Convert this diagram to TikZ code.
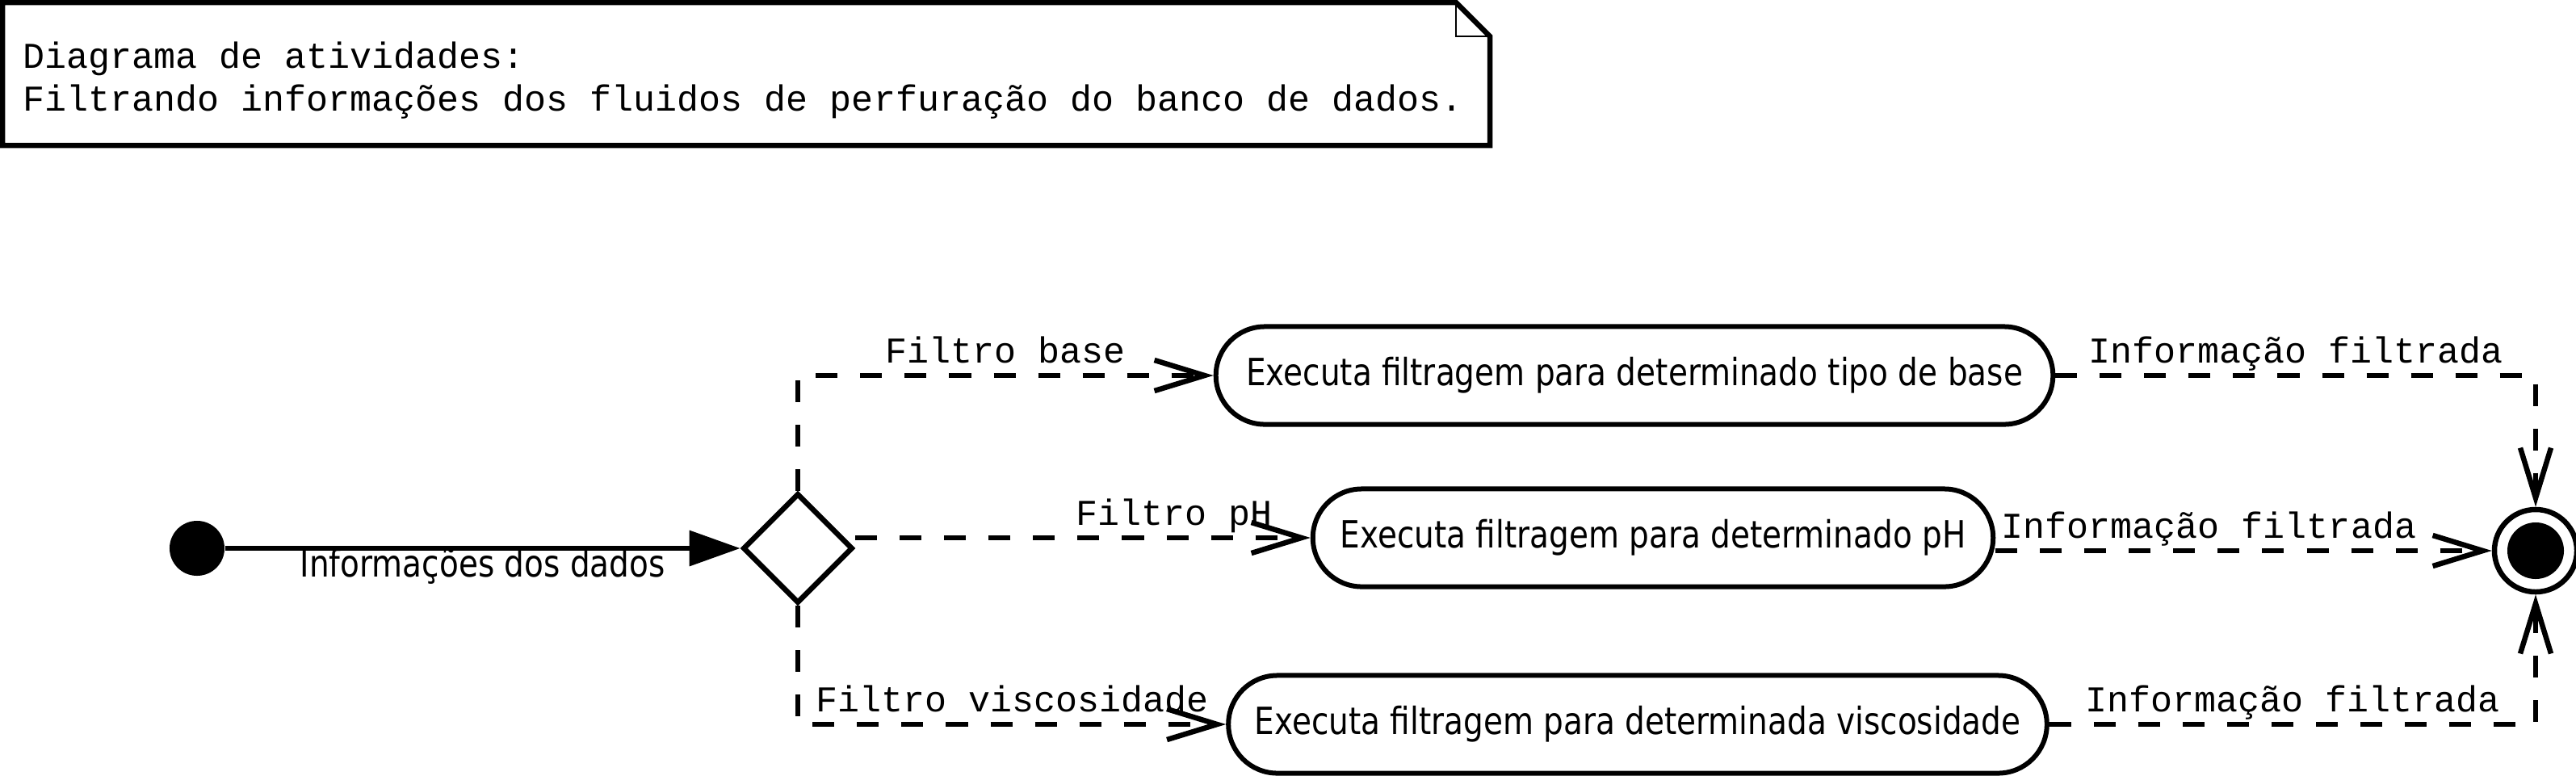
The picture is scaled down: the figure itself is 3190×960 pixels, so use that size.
\documentclass[tikz,border=0pt]{standalone}
\usepackage{fontspec}
\usetikzlibrary{arrows.meta,shapes.geometric,shapes.misc,calc}
\newfontfamily\monof{Liberation Mono}
\newfontfamily\sansf{DejaVu Sans}[FakeStretch=0.84]
\begin{document}
\begin{tikzpicture}[x=0.01cm,y=-0.01cm,
  lw/.style={line width=0.065cm},
  startn/.style={circle, fill=black, inner sep=0pt, minimum size=0.68cm},
  decn/.style={diamond, draw, line width=0.065cm, inner sep=0pt, minimum width=1.36cm, minimum height=1.36cm, aspect=1},
  actn/.style={rounded rectangle, draw, line width=0.06cm, minimum height=1.21cm, inner xsep=0pt,
    font=\sansf\fontsize{13.2pt}{16pt}\selectfont},
  finn/.style={circle, draw, line width=0.065cm, inner sep=0pt, minimum size=1.02cm},
  lbl/.style={font=\monof\fontsize{12.8pt}{15pt}\selectfont, anchor=base, inner sep=0pt, yshift=0.16cm},
  lbls/.style={font=\sansf\fontsize{13.2pt}{16pt}\selectfont, anchor=base, inner sep=0pt, yshift=-0.35cm},
  notetxt/.style={font=\monof\fontsize{12.8pt}{15pt}\selectfont, anchor=base west, inner sep=0pt},
  dflow/.style={lw, dash pattern=on 0.27cm off 0.28cm, -{Straight Barb[length=0.62cm,width=0.38cm]}},
  sflow/.style={lw, -{Triangle[length=0.63cm,width=0.43cm]}}
]
\useasboundingbox (0,0) rectangle (3190,960);
\fill[white] (0,0) rectangle (3190,960);

% note
\draw[lw, line join=miter] (3,3) -- (1803,3) -- (1845,45) -- (1845,180) -- (3,180) -- cycle;
\draw[line width=0.02cm] (1803,3) -- (1803,45) -- (1845,45);
\node[notetxt] (nt1) at (28,84) {Diagrama de atividades:};
\node[notetxt] (nt2) at (28,137) {Filtrando informações dos fluidos de perfuração do banco de dados.};

% nodes
\node[startn] (ini) at (244,679) {};
\node[decn] (dia) at (988,679) {};
\node[actn, minimum width=10.36cm] (b) at (2024,465) {Executa filtragem para determinado tipo de base};
\node[actn, minimum width=8.42cm] (p) at (2047,666) {Executa filtragem para determinado pH};
\node[actn, minimum width=10.13cm] (v) at (2028,897) {Executa filtragem para determinada viscosidade};
\node[finn] (fin) at (3140,682) {};
\fill (fin.center) circle (0.35cm);

% connectors
\draw[sflow] (ini) -- node[lbls, pos=0.50] (lb0) {Informações dos dados} (dia.west);
\draw[dflow] (dia.north) |- node[lbl, pos=0.75] (lb1) {Filtro base} (b.west);
\draw[dflow] (dia.east |- p.west) -- node[lbl, pos=0.70] (lb2) {Filtro pH} (p.west);
\draw[dflow] (dia.south) |- node[lbl, pos=0.75] (lb3) {Filtro viscosidade} (v.west);
\draw[dflow] (b.east) -| node[lbl, pos=0.25] (lb4) {Informação filtrada} (fin.north);
\draw[dflow] (p.east |- fin.west) -- node[lbl, pos=0.43] (lb5) {Informação filtrada} (fin.west);
\draw[dflow] (v.east) -| node[lbl, pos=0.25] (lb6) {Informação filtrada} (fin.south);
\end{tikzpicture}
\end{document}
